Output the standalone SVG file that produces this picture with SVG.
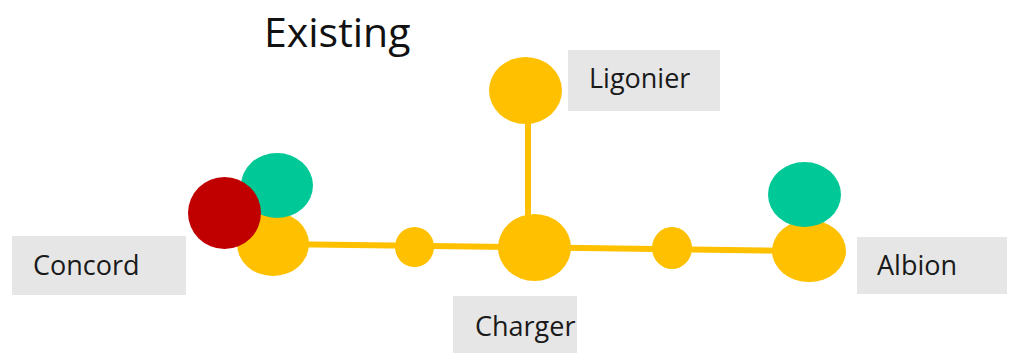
<svg xmlns="http://www.w3.org/2000/svg" width="1012" height="354" viewBox="0 0 1012 354">
  <style>
    .label-box { fill: #e6e6e6; }
    .label { font-family: "Open Sans", "Noto Sans", sans-serif; font-size: 27px; fill: #1a1a1a; }
    .title { font-family: "Open Sans", "Noto Sans", sans-serif; font-size: 41px; fill: #111111; }
    .line { stroke: #ffc000; stroke-width: 6; fill: none; }
    .yellow { fill: #ffc000; }
    .green { fill: #00c896; }
    .red { fill: #c00000; }
  </style>
  <rect width="1012" height="354" fill="#ffffff"/>

  <text class="title" x="264" y="47">Existing</text>

  <!-- connectors -->
  <g id="connectors">
    <line class="line" x1="273" y1="244" x2="809" y2="251"/>
    <line class="line" x1="528" y1="110" x2="528" y2="230"/>
  </g>

  <g id="concord">
    <rect class="label-box" x="12" y="236" width="174" height="59"/>
    <text class="label" x="33" y="275">Concord</text>
    <ellipse class="yellow" cx="273" cy="244" rx="36" ry="32"/>
    <ellipse class="green" cx="277" cy="185.5" rx="36" ry="32.5"/>
    <ellipse class="red" cx="224.5" cy="213" rx="36.5" ry="36"/>
  </g>

  <g id="junction-west">
    <ellipse class="yellow" cx="414.5" cy="247" rx="19.5" ry="20"/>
  </g>

  <g id="ligonier">
    <rect class="label-box" x="568" y="50" width="152" height="61"/>
    <text class="label" x="589" y="88">Ligonier</text>
    <ellipse class="yellow" cx="525.5" cy="90.5" rx="36.5" ry="33.5"/>
  </g>

  <g id="charger">
    <rect class="label-box" x="453" y="296" width="124" height="57"/>
    <text class="label" x="475" y="336">Charger</text>
    <ellipse class="yellow" cx="534.5" cy="247.5" rx="36.5" ry="33.5"/>
  </g>

  <g id="junction-east">
    <ellipse class="yellow" cx="672" cy="248" rx="20" ry="21"/>
  </g>

  <g id="albion">
    <rect class="label-box" x="857" y="237" width="150" height="57"/>
    <text class="label" x="877" y="275">Albion</text>
    <ellipse class="yellow" cx="809" cy="251" rx="37" ry="31"/>
    <ellipse class="green" cx="804.5" cy="194.5" rx="36.5" ry="32.5"/>
  </g>
</svg>
